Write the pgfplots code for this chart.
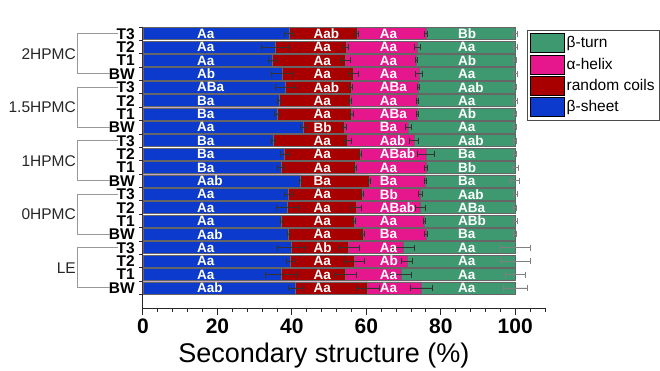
\documentclass[border=0pt]{standalone}
\usepackage{pgfplots}
\pgfplotsset{compat=1.18}
\usepackage{pgfplotstable}
\usepackage{fontspec}
\setmainfont{Liberation Sans}
\definecolor{cblue}{RGB}{12,58,205}
\definecolor{cred}{RGB}{168,0,0}
\definecolor{cpink}{RGB}{230,22,140}
\definecolor{cgreen}{RGB}{62,152,112}

% ends of each segment (cumulative %) and their errors; y=19 is 2HPMC T3 (top)
\pgfplotstableread{
y B eB R eR P eP T eT
19 39.3 1.2 57.5 0.5 76.0 0.3 100 0.5
18 35.5 3.7 54.5 0.6 73.7 0.8 100 0.5
17 34.7 1.1 54.3 1.3 73.5 0.3 100 0.4
16 37.4 2.8 56.5 1.3 74.2 0.9 100 0.5
15 38.3 2.6 55.9 0.4 74.0 0.2 100 0.4
14 36.5 0.3 55.6 0.3 73.7 0.3 100 0.6
13 36.0 0.6 56.1 0.3 73.7 0.2 100 0.4
12 43.2 1.0 54.1 0.5 71.3 0.7 100 0.4
11 35.1 0.5 55.0 0.9 72.8 1.3 100 0.4
10 38.1 1.3 58.5 0.3 76.0 2.2 100 0.4
9 37.1 0.9 57.1 0.3 76.0 0.3 100 0.8
8 42.3 0.2 60.8 0.2 75.8 0.3 100 1.2
7 39.1 1.1 59.0 0.2 74.5 0.5 100 0.6
6 38.9 3.1 57.4 1.3 74.6 1.3 100 0.4
5 37.2 0.2 56.8 0.3 75.7 0.3 100 0.6
4 39.0 0.3 59.1 0.3 76.0 0.3 100 0.4
3 39.9 3.7 55.3 2.8 69.9 3.0 100 4.0
2 39.6 1.1 56.8 2.8 70.9 1.4 100 4.0
1 37.2 4.3 54.3 3.0 69.3 2.9 100 2.7
0 40.9 1.8 60.4 3.1 74.8 3.0 100 3.2
}\data

\pgfplotstableread{
y lb lr lp lt
19 Aa Aab Aa Bb
18 Aa Aa Aa Aa
17 Aa Aa Aa Ab
16 Ab Aa Aa Aa
15 ABa Aab ABa Aab
14 Ba Aa Aa Aa
13 Ba Aa ABa Ab
12 Aa Bb Ba Aa
11 Ba Aa Aab Aab
10 Ba Aa ABab Ba
9 Ba Aa Aa Bb
8 Aab Ba Ba Ba
7 Aa Aa Bb Aab
6 Aa Aa ABab ABa
5 Aa Aa Aa ABb
4 Aab Aa Ba Ba
3 Aa Ab Aa Aa
2 Aa Aa Ab Aa
1 Aa Aa Aa Aa
0 Aab Aa Aa Aa
}\labs

\pgfplotsset{
  mybar/.style={xbar, bar width=0.9, bar shift=0pt, draw=black!60, line width=0.7pt,
    legend image code/.code={\draw[##1, draw=black, line width=0.8pt] (0pt,-9.5pt) rectangle (34pt,9.5pt);}},
  myerr/.style={error bars/.cd, x dir=both, x explicit,
    error bar style={#1, line width=0.8pt},
    error mark options={rotate=90, mark size=3pt, #1, line width=0.8pt}},
  mylab/.style={forget plot, draw=none, mark=none, nodes near coords, point meta=explicit symbolic,
    every node near coord/.style={anchor=west, inner sep=0pt, text=white,
      font=\fontsize{13.5}{14}\selectfont\bfseries}},
}

\begin{document}
\begin{tikzpicture}
\begin{axis}[
  scale only axis, width=402pt, height=281pt,
  xmin=0, xmax=108, ymin=-1.5, ymax=19.5,
  axis x line*=bottom, axis y line*=left,
  axis line style={-, line width=1pt, black!85},
  xtick={0,20,...,100}, minor xtick={4,8,...,108},
  tick align=outside, major tick length=7pt, minor tick length=4pt,
  every tick/.style={black!85, line width=1pt},
  ytick={0,...,19},
  yticklabels={BW,T1,T2,T3,BW,T1,T2,T3,BW,T1,T2,T3,BW,T1,T2,T3,BW,T1,T2,T3},
  minor ytick={-0.5,0.5,...,19.5},
  every major y tick/.style={draw=none},
  /pgf/number format/assume math mode=true,
  xticklabel style={font=\fontsize{21}{22}\selectfont\bfseries},
  yticklabel style={font=\fontsize{15.5}{16}\selectfont\bfseries, inner xsep=1pt, inner ysep=0pt},
  xlabel={Secondary structure (\%)},
  xlabel style={font=\fontsize{27}{28}\selectfont, at={(axis description cs:0.45,0)}, anchor=base, yshift=-54pt},
  clip=false,
  legend style={at={(0.954,0.99)}, anchor=north west, draw=black!70, line width=0.8pt,
    font=\fontsize{15.5}{16}\selectfont, inner sep=3pt, row sep=1.5pt},
  legend cell align=left,
]
\addplot[mybar, fill=cgreen, myerr=black!50] table[x=T, y=y, x error=eT]{\data};
\addlegendentry{β-turn}
\addplot[mybar, fill=cpink, myerr=black!80] table[x=P, y=y, x error=eP]{\data};
\addlegendentry{α-helix}
\addplot[mybar, fill=cred, myerr=black!80] table[x=R, y=y, x error=eR]{\data};
\addlegendentry{random coils}
\addplot[mybar, fill=cblue, myerr=black!80] table[x=B, y=y, x error=eB]{\data};
\addlegendentry{β-sheet}

\addplot[mylab] table[x expr=14.5, y=y, meta=lb]{\labs};
\addplot[mylab] table[x expr=45.8, y=y, meta=lr]{\labs};
\addplot[mylab] table[x expr=63.6, y=y, meta=lp]{\labs};
\addplot[mylab] table[x expr=84.6, y=y, meta=lt]{\labs};

\draw[black!40, line width=1pt] ([xshift=-25pt]axis cs:0,19) -- ([xshift=-65pt]axis cs:0,19) -- ([xshift=-65pt]axis cs:0,16) -- ([xshift=-33pt]axis cs:0,16);
\draw[black!40, line width=1pt] ([xshift=-25pt]axis cs:0,15) -- ([xshift=-65pt]axis cs:0,15) -- ([xshift=-65pt]axis cs:0,12) -- ([xshift=-33pt]axis cs:0,12);
\draw[black!40, line width=1pt] ([xshift=-25pt]axis cs:0,11) -- ([xshift=-65pt]axis cs:0,11) -- ([xshift=-65pt]axis cs:0,8) -- ([xshift=-33pt]axis cs:0,8);
\draw[black!40, line width=1pt] ([xshift=-25pt]axis cs:0,7) -- ([xshift=-65pt]axis cs:0,7) -- ([xshift=-65pt]axis cs:0,4) -- ([xshift=-33pt]axis cs:0,4);
\draw[black!40, line width=1pt] ([xshift=-25pt]axis cs:0,3) -- ([xshift=-65pt]axis cs:0,3) -- ([xshift=-65pt]axis cs:0,0) -- ([xshift=-33pt]axis cs:0,0);
\node[anchor=east, inner sep=0pt, font=\fontsize{15.5}{16}\selectfont, text=black!85] at ([xshift=-67pt]axis cs:0,17.5) {2HPMC};
\node[anchor=east, inner sep=0pt, font=\fontsize{15.5}{16}\selectfont, text=black!85] at ([xshift=-67pt]axis cs:0,13.5) {1.5HPMC};
\node[anchor=east, inner sep=0pt, font=\fontsize{15.5}{16}\selectfont, text=black!85] at ([xshift=-67pt]axis cs:0,9.5) {1HPMC};
\node[anchor=east, inner sep=0pt, font=\fontsize{15.5}{16}\selectfont, text=black!85] at ([xshift=-67pt]axis cs:0,5.5) {0HPMC};
\node[anchor=east, inner sep=0pt, font=\fontsize{15.5}{16}\selectfont, text=black!85] at ([xshift=-67pt]axis cs:0,1.5) {LE};
\end{axis}
\pgfresetboundingbox
\path (-143pt,-62pt) rectangle (517pt,308pt);
\end{tikzpicture}
\end{document}
